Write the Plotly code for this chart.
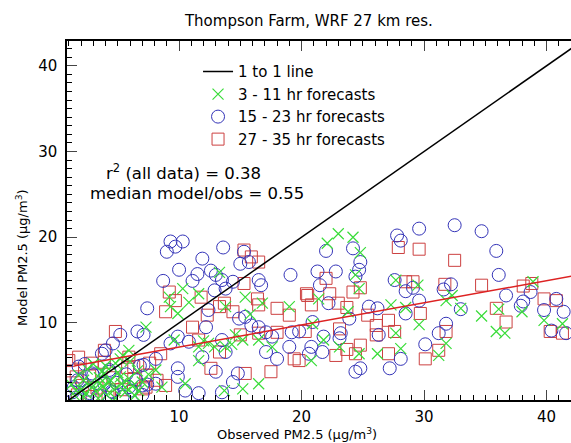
import plotly.graph_objects as go

# ---------------- data ----------------
green_x = [23.0, 24.2, 24.8, 22.1, 24.4, 24.7, 21.4, 27.7, 29.5, 31.8, 32.3, 33.0, 34.7, 36.1, 35.9, 36.6,
           38.9, 38.0, 39.8, 41.3, 29.6, 27.3, 27.7, 23.1, 23.8, 20.9, 21.8, 20.8, 26.2, 28.1, 31.2, 31.8,
           24.7, 28.5,
           10.3, 11.6, 9.2, 9.3, 9.9, 13.3, 13.8, 15.4, 16.8, 19.0, 17.6, 16.5, 13.8, 12.4, 11.6, 15.2,
           7.3, 5.9, 5.4, 4.8, 3.9, 3.5, 2.9, 2.2, 1.6, 4.3, 5.2, 5.6, 6.7, 8.1, 8.6, 10.5, 13.7, 15.2,
           12.9, 11.6, 16.5, 9.6,
           1.5, 2.0, 2.4, 2.8, 3.2, 3.5, 3.8, 4.1, 4.4, 4.7, 5.0, 5.3, 5.6, 5.9, 6.2, 6.6, 7.0, 1.8,
           2.5, 3.0, 4.0, 6.0, 7.5, 1.2, 2.2, 3.4, 4.8, 6.4, 5.2, 3.7, 12.0, 14.3, 10.8, 15.8, 14.6]
green_y = [20.4, 20.0, 18.2, 19.3, 15.6, 14.0, 12.8, 15.0, 14.4, 12.6, 13.2, 11.7, 10.8, 11.6, 9.0, 8.8,
           14.8, 11.3, 10.3, 9.9, 9.8, 12.1, 8.8, 7.2, 11.3, 9.9, 8.0, 5.6, 6.4, 7.0, 6.2, 7.6,
           6.4, 11.8,
           14.0, 13.4, 13.0, 11.9, 11.1, 15.9, 11.9, 13.0, 12.3, 11.9, 7.2, 8.0, 7.2, 7.6, 7.2, 8.0,
           9.5, 6.8, 6.2, 5.3, 4.1, 2.9, 2.5, 3.3, 2.1, 3.1, 3.7, 2.5, 2.1, 4.5, 2.5, 2.9, 2.1, 2.3,
           7.2, 5.6, 2.9, 8.0,
           1.5, 2.2, 1.8, 3.0, 2.0, 3.6, 2.6, 1.6, 3.3, 2.2, 4.2, 2.9, 1.9, 3.5, 2.6, 4.4, 3.1, 3.9,
           4.6, 5.2, 5.0, 5.5, 4.0, 2.8, 1.3, 1.2, 1.2, 1.5, 5.8, 4.3, 7.9, 7.5, 12.4, 11.0, 8.6]

blue_x = [27.8, 28.1, 29.6, 32.5, 34.7, 35.9, 22.0, 24.2, 24.8, 24.7, 21.3, 22.8, 24.4, 21.5, 27.6, 28.5,
          29.1, 32.2, 31.6, 36.1, 36.7, 38.7, 38.1, 37.9, 39.8, 40.8, 41.4, 41.6, 40.4, 22.2, 25.5, 26.2,
          28.5, 29.6, 33.0, 23.9, 20.9, 31.8, 31.2, 23.2, 26.3, 21.8, 23.1, 20.8, 20.6, 21.7, 30.1, 28.1,
          24.4, 24.8, 27.2, 19.8,
          9.3, 9.7, 10.3, 9.0, 13.6, 11.9, 15.3, 15.0, 15.7, 10.0, 8.7, 11.1, 11.5, 12.6, 13.0, 13.5,
          14.4, 16.5, 16.7, 19.1, 12.9, 12.4, 13.8, 7.4, 14.9, 15.4, 15.9, 16.5, 17.1, 17.6, 18.0, 19.0,
          19.2, 6.6, 7.1, 5.2, 4.6, 4.0, 9.9, 10.8, 12.2, 13.5, 13.8, 11.9, 13.0, 9.3, 8.1, 7.1, 9.9,
          9.9, 8.1, 10.5, 11.6, 13.5, 14.4, 14.8, 2.9, 3.7, 1.8, 1.7, 4.6, 5.9, 7.0, 2.7, 1.3, 4.3, 17.1,
          1.4, 2.0, 2.6, 3.0, 3.4, 3.9, 4.3, 4.9, 5.4, 5.7, 6.1, 6.5, 7.0, 7.4, 2.3, 1.6, 4.5, 6.8]
blue_y = [20.2, 19.6, 21.0, 21.4, 20.7, 18.4, 18.4, 18.7, 17.1, 16.2, 16.0, 16.0, 15.4, 14.4, 15.0, 13.7,
          14.1, 14.5, 13.9, 15.6, 13.2, 13.6, 12.5, 12.0, 11.5, 12.8, 11.3, 8.8, 9.1, 12.3, 11.9, 11.7,
          11.1, 12.6, 11.6, 10.5, 10.1, 9.9, 8.8, 8.8, 8.6, 8.4, 8.2, 7.2, 6.4, 6.6, 7.5, 5.8,
          4.3, 4.7, 4.7, 9.0,
          19.5, 18.9, 19.5, 18.3, 18.8, 17.5, 18.3, 16.9, 17.1, 16.2, 14.9, 14.9, 15.7, 16.1, 15.6, 15.0,
          14.8, 15.0, 14.4, 15.6, 13.8, 11.5, 14.0, 11.7, 10.5, 10.7, 9.7, 9.5, 8.9, 8.4, 5.8, 7.2,
          8.9, 9.0, 8.6, 8.6, 7.6, 6.8, 8.4, 7.8, 9.5, 8.0, 6.6, 6.0, 4.3, 7.6, 5.8, 5.1, 4.7,
          3.7, 2.9, 2.1, 1.8, 1.9, 3.1, 4.1, 4.1, 6.4, 4.9, 3.3, 1.9, 2.5, 2.7, 1.8, 1.9, 4.5, 6.6,
          2.5, 3.3, 2.2, 3.9, 1.5, 2.9, 4.3, 3.0, 1.4, 4.0, 2.1, 3.3, 1.6, 2.8, 5.2, 1.3, 2.0, 5.0]

red_x = [27.9, 29.6, 32.5, 22.0, 20.4, 22.3, 24.2, 24.8, 28.5, 29.1, 31.7, 34.7, 38.1, 38.8, 39.8, 40.8,
         23.0, 20.8, 23.7, 25.4, 26.1, 27.1, 29.7, 35.9, 36.7, 23.1, 26.1, 27.6, 31.8, 20.3, 23.7, 24.8,
         27.1, 22.8, 24.4, 31.2, 30.1, 40.3, 41.3, 19.8,
         15.3, 15.9, 16.5, 9.2, 8.9, 9.7, 11.8, 12.3, 13.3, 13.7, 14.4, 15.3, 16.4, 16.5, 18.0, 19.0,
         20.5, 11.1, 11.6, 13.3, 12.6, 15.4, 17.5, 19.4, 8.5, 8.2, 8.9, 4.8, 3.9, 1.8, 1.0, 2.9, 5.9,
         6.3, 7.4, 7.3, 1.6, 16.5, 18.0, 15.0,
         1.3, 2.1, 2.7, 3.3, 3.9, 4.6, 5.3, 5.8, 6.3, 7.1, 1.7, 4.2, 7.6, 2.9]
red_y = [18.8, 18.6, 17.3, 15.2, 13.4, 13.4, 13.6, 14.1, 14.8, 14.8, 14.5, 14.4, 14.3, 14.6, 12.8, 12.6,
         12.3, 12.1, 11.8, 10.9, 9.7, 10.3, 11.1, 11.7, 10.1, 9.3, 8.6, 9.0, 9.0, 9.0, 6.9, 7.4,
         6.4, 6.2, 6.4, 6.8, 5.8, 9.0, 8.8, 5.6,
         18.5, 17.7, 17.1, 13.6, 11.3, 12.6, 13.0, 10.9, 11.9, 12.3, 11.3, 14.6, 12.8, 12.1, 11.7, 10.9,
         13.2, 9.5, 8.0, 6.6, 4.7, 4.1, 4.3, 5.8, 6.4, 3.3, 2.7, 9.0, 6.8, 6.0, 5.6, 5.3, 6.0,
         4.9, 3.9, 2.5, 3.7, 8.8, 8.9, 8.6,
         4.4, 2.7, 3.8, 2.4, 5.4, 3.6, 2.2, 4.8, 3.4, 2.3, 1.6, 1.3, 5.3, 1.4]

one_to_one = [0, 50]
fit_slope = 0.258
fit_intercept = 4.6
fit_x = [1.5, 50]

x_ticks = [10, 20, 30, 40]
y_ticks = [10, 20, 30, 40]

# ---------------- styling ----------------
FONT = "DejaVu Sans"
GREEN = "#38dc38"
BLUE = "#3434b8"
RED = "#cc4040"

fig = go.Figure()

fig.add_trace(go.Scatter(x=red_x, y=red_y, mode="markers", name="27 - 35 hr forecasts",
                         legendrank=4,
                         marker=dict(symbol="square-open", size=12, color=RED, line=dict(width=1))))
fig.add_trace(go.Scatter(x=blue_x, y=blue_y, mode="markers", name="15 - 23 hr forecasts",
                         legendrank=3,
                         marker=dict(symbol="circle-open", size=13, color=BLUE, line=dict(width=1))))
fig.add_trace(go.Scatter(x=green_x, y=green_y, mode="markers", name="3 - 11 hr forecasts",
                         legendrank=2,
                         marker=dict(symbol="x-thin-open", size=11, color=GREEN, line=dict(width=1.2, color=GREEN))))
fig.add_trace(go.Scatter(x=one_to_one, y=one_to_one, mode="lines", name="1 to 1 line",
                         legendrank=1, line=dict(color="black", width=1.5)))
fig.add_trace(go.Scatter(x=fit_x, y=[fit_intercept + fit_slope * v for v in fit_x], mode="lines",
                         showlegend=False, line=dict(color="#dd2222", width=1.5)))

fig.update_layout(
    width=571, height=443,
    margin=dict(l=67, r=0, t=41, b=43),
    paper_bgcolor="white", plot_bgcolor="white",
    font=dict(family=FONT, size=14, color="black"),
    showlegend=True,
    legend=dict(x=0.26, y=0.96, xanchor="left", yanchor="top", bgcolor="rgba(0,0,0,0)",
                font=dict(size=15), tracegroupgap=0, itemwidth=30),
    title=dict(text="Thompson Farm, WRF 27 km res.", x=0.48, xref="paper", xanchor="center",
               y=1 - 21 / 443, yanchor="middle", font=dict(size=15)),
)

fig.update_xaxes(range=[0.85, 42.0], tickvals=x_ticks, ticks="inside", ticklen=10, tickwidth=1,
                 showline=True, linecolor="black", linewidth=1.5, mirror="ticks", showgrid=False,
                 zeroline=False, tickfont=dict(size=15), ticklabelstandoff=2,
                 minor=dict(dtick=1, ticks="inside", ticklen=5, tickcolor="black", showgrid=False))
fig.update_yaxes(range=[1.0, 42.9], tickvals=y_ticks, ticks="inside", ticklen=10, tickwidth=1,
                 showline=True, linecolor="black", linewidth=1.5, showgrid=False,
                 zeroline=False, tickfont=dict(size=15), ticklabelstandoff=5,
                 minor=dict(dtick=1, ticks="inside", ticklen=5, tickcolor="black", showgrid=False))

fig.add_annotation(text="Observed PM2.5 (μg/m<sup>3</sup>)", xref="paper", yref="paper",
                   x=(297 - 67) / 504, y=-(434 - 400) / 359, xanchor="center", yanchor="middle",
                   showarrow=False, font=dict(size=13))
fig.add_annotation(text="Model PM2.5 (μg/m<sup>3</sup>)", xref="paper", yref="paper",
                   x=-(67 - 22) / 504, y=1 - (258 - 41) / 359, xanchor="center", yanchor="middle",
                   textangle=-90, showarrow=False, font=dict(size=13))
fig.add_annotation(text="r<sup>2</sup> (all data) = 0.38", xref="paper", yref="paper",
                   x=(183 - 67) / 504, y=1 - (172 - 41) / 359, xanchor="center", yanchor="middle",
                   showarrow=False, font=dict(size=16.5))
fig.add_annotation(text="median model/obs = 0.55", xref="paper", yref="paper",
                   x=(197 - 67) / 504, y=1 - (193 - 41) / 359, xanchor="center", yanchor="middle",
                   showarrow=False, font=dict(size=16.5))

fig.write_html("out.html")
